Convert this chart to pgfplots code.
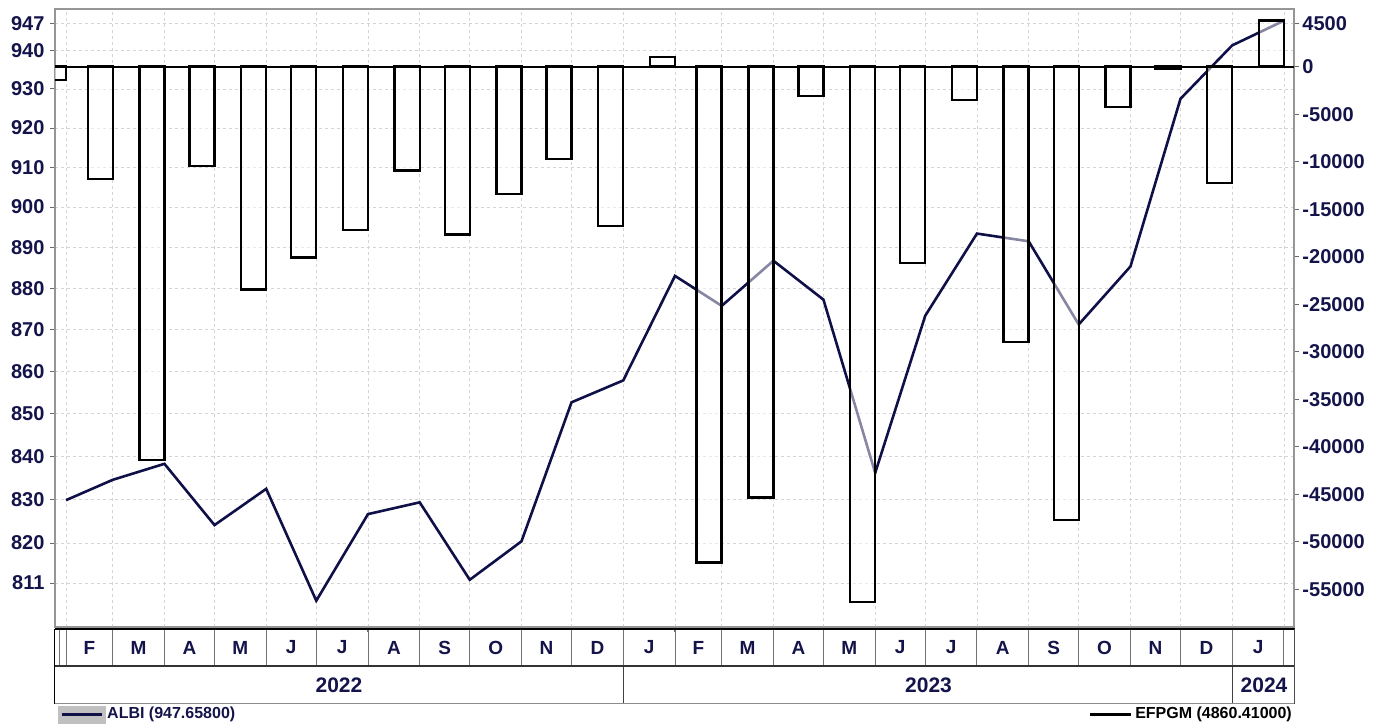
\documentclass[border=0pt]{standalone}
\usepackage{fontspec}
\setmainfont{Liberation Sans}
\usepackage{pgfplots}
\pgfplotsset{compat=1.18}
\definecolor{navy}{RGB}{20,20,75}
\definecolor{linec}{RGB}{16,16,72}
\definecolor{framec}{RGB}{150,150,150}
\definecolor{gridc}{RGB}{212,212,212}
\definecolor{legbox}{RGB}{192,192,192}
\newcommand{\tickfont}{\fontsize{20}{20}\selectfont\bfseries}
\newcommand{\monfont}{\fontsize{19}{19}\selectfont\bfseries}
\newcommand{\yearfont}{\fontsize{21}{21}\selectfont\bfseries}
\newcommand{\legfont}{\fontsize{16}{16}\selectfont\bfseries}

\pgfplotstableread{
d v
31 829.8
59 834.5
90 838.2
120 824.1
151 832.4
181 807.0
212 826.6
243 829.3
273 811.7
304 820.4
334 852.6
365 857.8
396 883.0
424 875.7
455 886.7
485 877.2
516 836.1
546 873.3
577 893.4
608 891.5
638 871.2
669 885.3
699 927.4
730 941.2
761 947.658
}\albi

\pgfplotstableread{
d v
23.5 -1400
51.5 -11820
82.5 -41390
112.5 -10480
143.5 -23430
173.5 -20100
204.5 -17190
235.5 -10940
265.5 -17640
296.5 -13400
326.5 -9710
357.5 -16770
388.5 1050
416.5 -52160
447.5 -45320
477.5 -3080
508.5 -56340
538.5 -20690
569.5 -3500
600.5 -29000
630.5 -47700
661.5 -4270
691.5 -170
722.5 -12270
753.5 4860.41
}\efpgm

\begin{document}
\begin{tikzpicture}
\useasboundingbox (0pt,0pt) rectangle (1385pt,724pt);
\begin{axis}[
  at={(55pt,715pt)}, anchor=north west,
  scale only axis, width=1239pt, height=618pt,
  xmin=24.4, xmax=767,
  y coord trafo/.code={\pgfmathparse{ln(#1)}},
  y coord inv trafo/.code={\pgfmathparse{exp(#1)}},
  ymin=801.2, ymax=950.8,
  scaled y ticks=false, scaled x ticks=false,
  ytick={811,820,830,840,850,860,870,880,890,900,910,920,930,940,947},
  yticklabels={811,820,830,840,850,860,870,880,890,900,910,920,930,940,947},
  xtick={31,59,90,120,151,181,212,243,273,304,334,365,396,424,455,485,516,546,577,608,638,669,699,730,761},
  xticklabels={},
  xmajorgrids, ymajorgrids,
  grid style={gridc, dash pattern=on 3pt off 3pt, line width=0.8pt},
  axis line style={framec, line width=1.5pt},
  tick align=outside, ytick pos=left, xtick pos=bottom,
  major tick length=5pt,
  tick style={framec!70!black, line width=1pt},
  yticklabel style={font=\tickfont, text=navy, xshift=-2pt},
]
\addplot[linec, line width=2.6pt] table[x=d, y=v] {\albi};
\end{axis}
\begin{axis}[
  at={(55pt,715pt)}, anchor=north west,
  scale only axis, width=1239pt, height=618pt,
  xmin=24.4, xmax=767,
  ymin=-58966, ymax=6072,
  scaled y ticks=false, scaled x ticks=false,
  ybar, bar width=15, bar shift=0pt,
  xtick=\empty, xticklabels={},
  ytick pos=right, yticklabel pos=right,
  axis line style={framec, line width=1.5pt},
  ytick={4500,0,-5000,-10000,-15000,-20000,-25000,-30000,-35000,-40000,-45000,-50000,-55000},
  yticklabels={4500,0,-5000,-10000,-15000,-20000,-25000,-30000,-35000,-40000,-45000,-50000,-55000},
  tick align=outside, major tick length=5pt,
  tick style={framec!70!black, line width=1pt},
  yticklabel style={font=\tickfont, text=navy},
]
\addplot[draw=black, fill=white, fill opacity=0.5, line width=2.4pt] table[x=d, y=v] {\efpgm};
\addplot[sharp plot, black, line width=2pt] coordinates {(24.4,0) (767,0)};
\end{axis}
\begin{scope}[x=1pt,y=1pt]
  \foreach \d in {31,59,90,120,151,181,212,243,273,304,334,365,396,424,455,485,516,546,577,608,638,669,699,730,761}
    \draw[black!55, line width=1pt] ({55+(\d-24.4)*1.66846},95) -- ++(0,-37);
  \draw[black!55, line width=1pt] (59.5,95) -- (59.5,58);
  \foreach \d in {365,730}
    \draw[black!75, line width=1pt] ({55+(\d-24.4)*1.66846},58) -- ++(0,-37.5);
  \draw[black, line width=1.2pt] (54.5,95) -- (1294.5,95);
  \draw[black!80, line width=1.2pt] (54.5,58) -- (1294.5,58);
  \draw[black!45, line width=1.5pt] (54.5,20.5) -- (1294.5,20.5);
  \draw[black, line width=1.2pt] (54.5,95) -- (54.5,20.5);
  \draw[black!70, line width=1.2pt] (1294.5,95) -- (1294.5,20.5);
  \foreach \a/\b/\m in {31/59/F,59/90/M,90/120/A,120/151/M,151/181/J,181/212/J,212/243/A,243/273/S,273/304/O,304/334/N,334/365/D,365/396/J,396/424/F,424/455/M,455/485/A,485/516/M,516/546/J,546/577/J,577/608/A,608/638/S,638/669/O,669/699/N,699/730/D,730/761/J}
    \node[text=navy, font=\monfont, inner sep=0pt] at ({55+((\a+\b)/2-24.4)*1.66846},76.5) {\m};
  \node[text=navy, font=\yearfont, inner sep=0pt] at (339,39) {2022};
  \node[text=navy, font=\yearfont, inner sep=0pt] at (928.5,39) {2023};
  \node[text=navy, font=\yearfont, inner sep=0pt] at (1264,39) {2024};
  \fill[legbox] (58,0) rectangle (106,18);
  \draw[linec, line width=3pt] (62,9.5) -- (102,9.5);
  \node[anchor=west, text=navy, font=\legfont, inner sep=0pt] at (107,10) {ALBI (947.65800)};
  \draw[black, line width=2.5pt] (1090,9.5) -- (1131,9.5);
  \node[anchor=east, text=black, font=\legfont, inner sep=0pt] at (1292,10) {EFPGM (4860.41000)};
\end{scope}
\end{tikzpicture}
\end{document}
